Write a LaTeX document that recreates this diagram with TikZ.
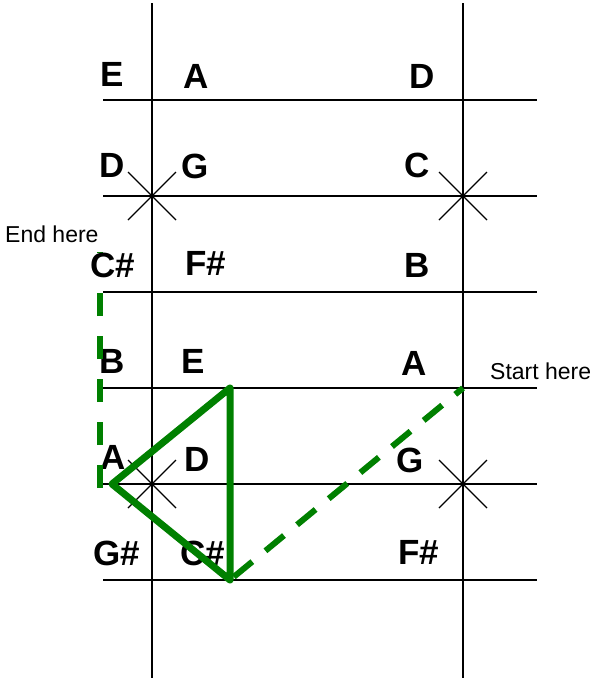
\documentclass[tikz,border=0pt]{standalone}
\usepackage{fontspec}
\setmainfont{Liberation Sans}
\definecolor{pathgreen}{RGB}{0,128,0}
\begin{document}
\begin{tikzpicture}[x=1pt,y=-1pt,
  gridline/.style={line width=1.9pt,black},
  crossline/.style={line width=1.2pt,black},
  note/.style={inner sep=0pt,text height=25pt,text depth=0pt,font=\fontsize{35}{35}\selectfont\bfseries},
  small/.style={inner sep=0pt,font=\fontsize{23}{23}\selectfont},
  greenline/.style={line width=7pt,pathgreen},
  greendash/.style={line width=6pt,pathgreen}]
\useasboundingbox (0,0) rectangle (593,678);
% strings (vertical) and frets (horizontal)
\coordinate (v1t) at (152,3); \coordinate (v1b) at (152,678);
\coordinate (v2t) at (463,3); \coordinate (v2b) at (463,678);
\draw[gridline] (v1t) -- (v1b);
\draw[gridline] (v2t) -- (v2b);
\foreach \yy [count=\i] in {100,196,292,388,484,580}{
  \coordinate (hl\i) at (103,\yy); \coordinate (hr\i) at (537,\yy);
  \draw[gridline] (hl\i) -- (hr\i);
}
% crosses
\foreach \xx/\yy [count=\i] in {152/196,463/196,152/484,463/484}{
  \coordinate (xa\i) at (\xx-24,\yy-24); \coordinate (xb\i) at (\xx+24,\yy+24);
  \coordinate (xc\i) at (\xx-24,\yy+24); \coordinate (xd\i) at (\xx+24,\yy-24);
  \draw[crossline] (xa\i) -- (xb\i);
  \draw[crossline] (xc\i) -- (xd\i);
}
% labels
\node[note] (r1a) at (112,74) {E};
\node[note] (r1b) at (196,76) {A};
\node[note] (r1c) at (422,76) {D};
\node[note] (r2a) at (112,165) {D};
\node[note] (r2b) at (195,166) {G};
\node[note] (r2c) at (417,165) {C};
\node[note] (r3b) at (206,263) {F\#};
\node[note] (r3c) at (417,265) {B};
\node[note] (r4a) at (112,361) {B};
\node[note] (r4b) at (193,361) {E};
\node[note] (r4c) at (414,363) {A};
\node[note] (r5a) at (113,457) {A};
\node[note] (r5b) at (197,459) {D};
\node[note] (r5c) at (410,460) {G};
\node[note] (r6a) at (117,553) {G\#};
\node[note] (r6b) at (203,553) {C\#};
\node[note] (r6c) at (419,552) {F\#};
% green path
\coordinate (start) at (463,388);
\coordinate (tbot) at (230,580);
\coordinate (tleft) at (112,484);
\coordinate (ttop) at (230,388);
\coordinate (endbot) at (100,488);
\coordinate (endtop) at (100,252);
\draw[greendash,dash pattern=on 24pt off 17pt,dash phase=14pt] (start) -- (tbot);
\draw[greenline,line join=round] (tleft) -- (ttop) -- (tbot) -- cycle;
\draw[greendash,dash pattern=on 23pt off 20pt] (endbot) -- (endtop);
\node[note,fill=white] (r3a) at (113,265) {C\#};
\node[small,anchor=base west] (endlbl) at (5,242) {End here};
\node[small,anchor=base west] (startlbl) at (490,379) {Start here};
\end{tikzpicture}
\end{document}
